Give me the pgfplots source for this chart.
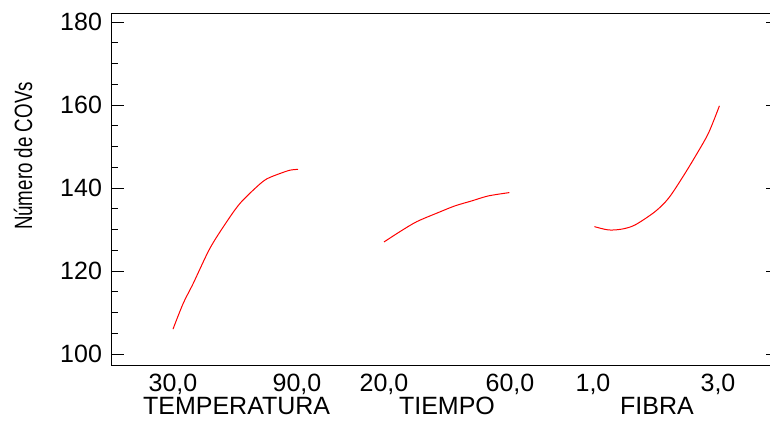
\documentclass[border=0pt]{standalone}
\usepackage{pgfplots}
\pgfplotsset{compat=1.18}
\usepackage{graphicx}
\usepackage{fontspec}
\setmainfont{Liberation Sans}

% x positions are in axis units (0 = left frame); segments: TEMPERATURA, TIEMPO, FIBRA
\begin{document}
\begin{tikzpicture}
\begin{axis}[
  at={(0,0)}, anchor=south west,
  scale only axis,
  width=333pt, height=176pt,
  xmin=0, xmax=333,
  ymin=97.35, ymax=182.17,
  xtick={30.5,92.5,136,199,240.5,303},
  xticklabels={30{,}0,90{,}0,20{,}0,60{,}0,1{,}0,3{,}0},
  xtick style={draw=none},
  xticklabel style={anchor=base, inner sep=0pt, yshift=-13pt},
  ytick={100,120,140,160,180},
  minor y tick num=3,
  major tick length=6pt,
  minor tick length=3pt,
  tick style={black, line width=0.5pt},
  yticklabel style={xshift=-1.5pt},
  tick label style={font=\fontsize{12.5}{14}\selectfont},
  /pgf/number format/assume math mode=true,
  axis line style={line width=0.5pt},
  clip=false,
]
\addplot[red, line width=0.5pt, smooth] coordinates {
  (30.5,106.0)(35.6,112.2)(40.6,117.0)(49,125.5)(57.4,131.9)(64,136.3)
  (72.4,140.3)(77.4,142.2)(84,143.5)(89,144.3)(93,144.5)
};
\addplot[red, line width=0.5pt, smooth] coordinates {
  (136,127.0)(144,129.5)(152.4,131.9)(163.2,134.1)(171.5,135.7)
  (179.9,136.9)(188.2,138.1)(198.7,138.9)
};
\addplot[red, line width=0.5pt, smooth] coordinates {
  (241.2,130.7)(248.2,129.9)(254.9,130.1)(261.5,131.1)(271.5,134.3)
  (278.2,137.5)(284.9,142.3)(291.5,147.5)(298.2,153.2)(303.7,159.8)
};
\end{axis}
\begin{scope}[font=\fontsize{12.5}{14}\selectfont, inner sep=0pt]
  \node[anchor=base] at (62.3pt,-24.8pt) {TEMPERATURA};
  \node[anchor=base] at (167.5pt,-24.8pt) {TIEMPO};
  \node[anchor=base] at (272.5pt,-24.8pt) {FIBRA};
\end{scope}
\node[rotate=90, inner sep=0pt, font=\fontsize{12.5}{14}\selectfont]
  at (-44.5pt,104.5pt) {\scalebox{0.75}[1]{Número de COVs}};
\pgfresetboundingbox
\path[use as bounding box] (-56pt,-27.5pt) rectangle (329pt,182.5pt);
\end{tikzpicture}
\end{document}
